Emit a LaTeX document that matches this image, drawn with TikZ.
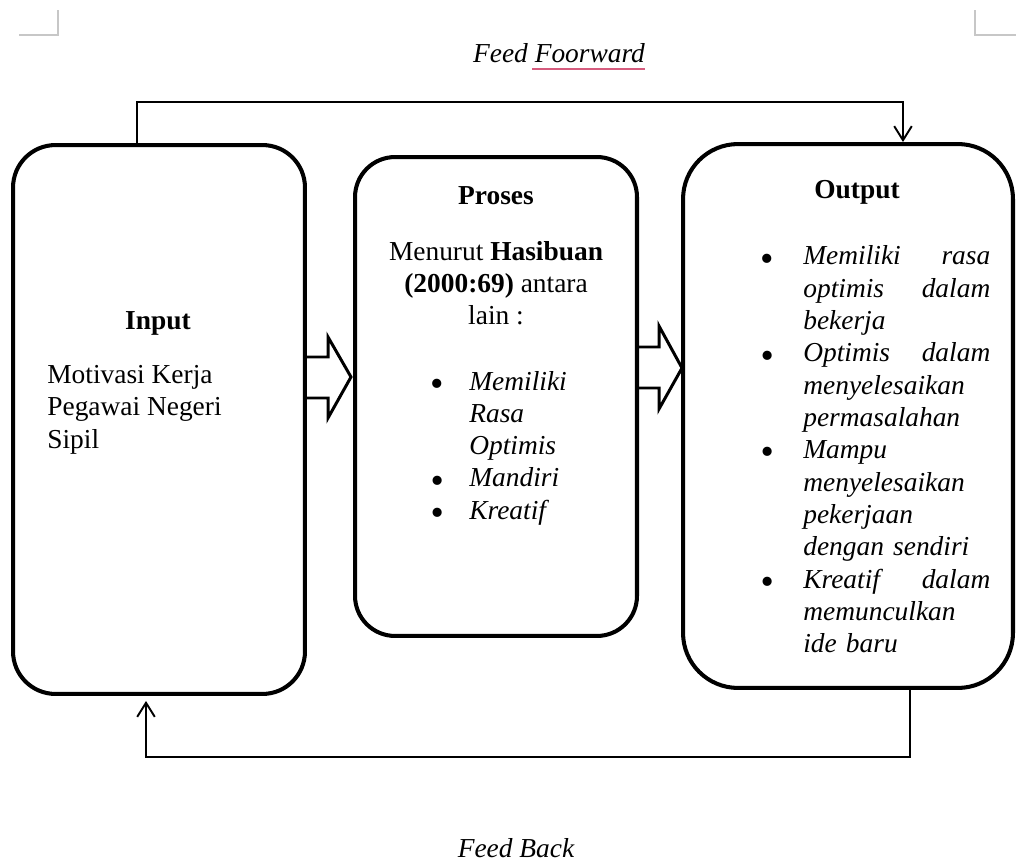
\documentclass[tikz,border=0pt]{standalone}
\usepackage{fontspec}
\usepackage{graphicx}
\setmainfont{Liberation Serif}
\usetikzlibrary{arrows.meta, positioning}

\definecolor{spellred}{RGB}{214,92,126}

% bullet with hanging text
\newcommand{\bigdot}{\smash{\raisebox{-0.22em}{\scalebox{1.4}{\textbullet}}}}
\newcommand{\bitem}[2][0.86cm]{\noindent\hangindent=#1\hangafter=1\makebox[#1][l]{\bigdot}#2\par}

\begin{document}
\begin{tikzpicture}[
    x=0.02cm, y=-0.02cm,
    every node/.style={font=\fontsize{15.6}{18.4}\selectfont},
    panel/.style={rectangle, draw, line width=2.3pt, inner sep=0},
    txt/.style={inner sep=0, execute at begin node={\hyphenpenalty=10000}},
    flow/.style={line width=1.1pt, -{Straight Barb[length=8pt, width=10pt, line width=1.1pt]}},
    fat/.style={draw, line width=1.7pt, line join=miter},
    cropmark/.style={draw=black!22, line width=0.6pt}
]
    \useasboundingbox (0,0) rectangle (1016,864);

    % page corner marks
    \draw[cropmark] (19,35) -- (58,35) -- (58,10);
    \draw[cropmark] (1016,35) -- (975,35) -- (975,10);

    % the three boxes
    \node[panel, rounded corners=0.85cm, minimum width=5.84cm, minimum height=10.98cm] (inbox)  at (159,419.5) {};
    \node[panel, rounded corners=0.8cm,  minimum width=5.64cm, minimum height=9.58cm]  (prbox)  at (496,396.5) {};
    \node[panel, rounded corners=1.1cm,  minimum width=6.6cm,  minimum height=10.88cm] (outbox) at (848,416) {};

    % Input
    \node[txt, anchor=base] (intitle) at (158,330) {\bfseries Input};
    \node[txt, anchor=base west, align=left] (inbody) at (47,448) {Motivasi Kerja\\Pegawai Negeri\\Sipil};

    % Proses
    \node[txt, anchor=base] (prtitle) at (496,205) {\bfseries Proses};
    \node[txt, anchor=base, align=center] (printro) at (496,325)
        {Menurut \textbf{Hasibuan}\\\textbf{(2000:69)} antara\\lain :};
    \node[txt, anchor=base west, text width=3.6cm, align=left] (prlist) at (430,390)
        {\bitem[0.78cm]{\itshape Memiliki\newline Rasa\newline Optimis}%
         \bitem[0.78cm]{\itshape Mandiri}%
         \bitem[0.78cm]{\itshape Kreatif}};

    % Output
    \node[txt, anchor=base] (outtitle) at (857,199) {\bfseries Output};
    \node[txt, anchor=base west, text width=4.6cm, align=left] (outlist) at (760,265)
        {\bitem{\itshape Memiliki\hfill rasa\newline optimis\hfill dalam\newline bekerja}%
         \bitem{\itshape Optimis\hfill dalam\newline menyelesaikan\newline permasalahan}%
         \bitem{\itshape Mampu\newline menyelesaikan\newline pekerjaan\newline dengan sendiri}%
         \bitem{\itshape Kreatif\hfill dalam\newline memunculkan\newline ide baru}};

    % block arrows between the boxes
    \draw[fat] (305,357) -- (328,357) -- (328,337) -- (351,377) -- (328,418) -- (328,398) -- (305,398) -- cycle;
    \draw[fat] (637,347) -- (659,347) -- (659,326) -- (682,368) -- (659,409) -- (659,388) -- (637,388) -- cycle;

    % feed forward and feed back
    \node[txt, anchor=base] (fftext) at (559,63) {\itshape Feed Foorward};
    \draw[spellred, line width=1.1pt] ([xshift=-2.26cm, yshift=-0.12cm]fftext.base east) -- ([yshift=-0.12cm]fftext.base east);
    \draw[flow] ([xshift=-0.44cm]inbox.north) -- ++(0,-41) -| ([xshift=1.1cm]outbox.north);

    \node[txt, anchor=base] (fbtext) at (516,857) {\itshape Feed Back};
    \draw[flow, shorten >=0.1cm] ([xshift=1.24cm]outbox.south) -- ++(0,67) -| ([xshift=-0.26cm]inbox.south);
\end{tikzpicture}
\end{document}
